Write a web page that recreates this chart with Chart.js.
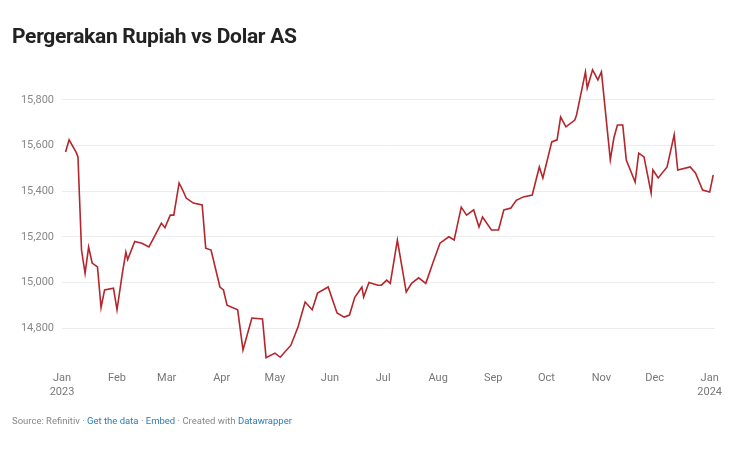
<!DOCTYPE html>
<html><head><meta charset="utf-8">
<script src="https://cdn.jsdelivr.net/npm/chart.js@4"></script>
<style>
body{margin:0;background:#fff;font-family:Roboto,sans-serif;}
#wrap{position:relative;width:750px;height:450px;}
#t{position:absolute;left:12px;top:24px;font-size:21px;font-weight:700;color:#222;letter-spacing:-0.3px}
#f{position:absolute;left:12px;top:415px;font-size:9.5px;color:#888}
#f span{color:#2a7db5}
canvas{position:absolute;left:0;top:0}
</style></head><body>
<div id="wrap">
<canvas id="c" width="750" height="450"></canvas>
<div id="t">Pergerakan Rupiah vs Dolar AS</div>
<div id="f">Source: Refinitiv · <span>Get the data</span> · <span>Embed</span> · Created with <span>Datawrapper</span></div>
</div>
<script>
const days=[2,4,8,9,11,13,15,17,20,22,24,29,31,34,36,37,41,45,49,52,56,58,61,63,66,68,70,74,79,81,84,89,91,93,99,102,107,113,115,120,123,129,133,137,141,144,150,155,159,162,165,169,170,173,178,180,183,185,189,194,197,201,205,209,213,218,221,225,228,232,235,237,242,246,249,253,256,260,265,269,271,276,279,281,284,289,290,295,296,299,302,304,309,311,313,316,318,323,325,328,332,333,336,341,345,347,354,357,361,365,367];
const rates=[15572,15625,15570,15550,15142,15040,15155,15085,15068,14890,14967,14975,14880,15040,15133,15100,15180,15172,15156,15200,15260,15240,15295,15295,15436,15405,15370,15348,15340,15150,15142,14980,14967,14900,14880,14704,14844,14840,14670,14690,14672,14725,14805,14914,14880,14953,14980,14866,14848,14857,14935,14980,14936,15000,14988,14988,15010,14996,15186,14958,14996,15020,14996,15085,15172,15200,15186,15330,15295,15318,15243,15287,15230,15230,15318,15326,15360,15375,15383,15506,15458,15616,15625,15725,15682,15712,15735,15923,15852,15932,15888,15923,15537,15633,15690,15690,15537,15440,15567,15550,15392,15493,15458,15506,15647,15493,15506,15480,15405,15396,15471];
const monthDays=[0,31,59,90,120,151,181,212,243,273,304,334,365];
const monthLabels=[['Jan','2023'],'Feb','Mar','Apr','May','Jun','Jul','Aug','Sep','Oct','Nov','Dec',['Jan','2024']];
const yTicks=[14800,15000,15200,15400,15600,15800];
new Chart(document.getElementById('c'),{
type:'line',
data:{datasets:[{data:days.map((d,i)=>({x:d,y:rates[i]})),borderColor:'#b3262c',borderWidth:1.6,pointRadius:0,tension:0}]},
options:{responsive:false,animation:false,
plugins:{legend:{display:false},tooltip:{enabled:false}},
layout:{padding:{top:68,left:8,right:35,bottom:40}},
scales:{
x:{type:'linear',min:0,max:368,
afterBuildTicks:a=>{a.ticks=monthDays.map(v=>({value:v}));},
afterFit:a=>{a.height=50;},
ticks:{autoSkip:false,maxRotation:0,color:'#777',font:{family:'Roboto',size:11},padding:4,
callback:(v)=>monthLabels[monthDays.indexOf(v)]},
grid:{display:false},border:{display:false}},
y:{min:14660,max:15940,
afterBuildTicks:a=>{a.ticks=yTicks.map(v=>({value:v}));},
afterFit:a=>{a.width=54;},
ticks:{color:'#888',font:{family:'Roboto',size:11},padding:8,callback:v=>v.toLocaleString('en-US')},
grid:{color:'#ececec',drawTicks:false},border:{display:false}}
}}});
</script></body></html>
